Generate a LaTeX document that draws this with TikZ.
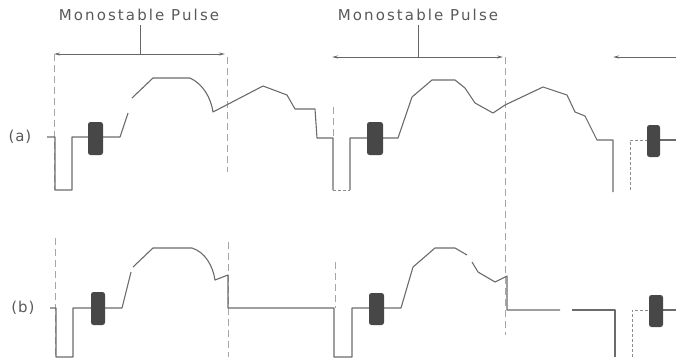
\documentclass[tikz,border=0pt]{standalone}
\usepackage{fontspec}
\setmainfont{DejaVu Sans}
\usetikzlibrary{arrows.meta}
\begin{document}
\begin{tikzpicture}[x=1pt,y=-1pt,
  wave/.style={draw=black!58, line width=1.1pt, line join=round},
  guide/.style={draw=black!35, line width=0.6pt, dash pattern=on 7pt off 4pt},
  faint/.style={draw=black!45, line width=0.8pt, dash pattern=on 3pt off 2pt},
  brk/.style={draw=black!60, line width=1pt},
  tip/.style={-{Stealth[length=6pt,width=3pt]}},
  blob/.style={fill=black!72, draw=none, rounded corners=2.5pt},
  lbl/.style={text=black!65, font=\fontsize{15}{15}\selectfont\addfontfeatures{LetterSpace=14}, inner sep=0pt},
  side/.style={text=black!65, font=\fontsize{15}{15}\selectfont\addfontfeatures{LetterSpace=6}, inner sep=0pt}]
\useasboundingbox (0,0) rectangle (676,360);

% labels
\node[lbl] (t1) at (139,15) {Monostable Pulse};
\node[lbl] (t2) at (418,15) {Monostable Pulse};
\node[side] (la) at (20,137) {(a)};
\node[side] (lb) at (23,308) {(b)};

% brackets
\coordinate (b1l) at (54,54); \coordinate (b1r) at (225,54); \coordinate (b1m) at (140,54);
\coordinate (b2l) at (332,57); \coordinate (b2r) at (503,57); \coordinate (b2m) at (418,57);
\coordinate (b3l) at (613,57); \coordinate (b3r) at (676,57);
\draw[brk] (t1.south -| b1m) ++(0,4) -- (b1m);
\draw[brk] (t2.south -| b2m) ++(0,4) -- (b2m);
\draw[brk,tip] (b1m) -- (b1l);
\draw[brk,tip] (b1m) -- (b1r);
\draw[brk,tip] (b2m) -- (b2l);
\draw[brk,tip] (b2m) -- (b2r);
\draw[brk,tip] (b3r) -- (b3l);

% guide lines
\draw[guide] (54,54) -- (54,190);
\draw[guide] (227,57) -- (227,172);
\draw[guide] (333,107) -- (333,138);
\draw[guide] (505,57) -- (505,335);
\draw[guide] (55,238) -- (55,357);
\draw[guide] (228,242) -- (228,357);
\draw[guide] (335,262) -- (335,308);

% waveform (a)
\draw[wave] (47,137) -- (55,137) -- (55,190) -- (72,190) -- (72,137) -- (120,137) -- (128,113);
\draw[wave] (132,98) -- (153,78) -- (190,78) .. controls (203,84) and (211,98) .. (213,112)
  -- (263,86) -- (287,95) -- (295,109) -- (315,109) -- (317,138) -- (333,138) -- (333,190);
\draw[faint] (333,190) -- (350,190);
\draw[wave] (350,190) -- (350,138) -- (398,138) -- (412,97) -- (432,80) -- (455,80) -- (465,88)
  -- (475,103) -- (493,113) -- (505,105) -- (543,87) -- (567,95) -- (575,112) -- (585,116)
  -- (597,140) -- (613,140) -- (613,192);
\draw[faint] (630,190) -- (630,140) -- (647,140);
\draw[wave] (660,140) -- (676,140);
\fill[blob] (88,122) rectangle (103,155);
\fill[blob] (367,122) rectangle (383,155);
\fill[blob] (647,125) rectangle (660,157);

% waveform (b)
\draw[wave] (50,308) -- (56,308) -- (56,357) -- (73,357) -- (73,308) -- (122,308) -- (131,272);
\draw[wave] (133,267) -- (153,248) -- (192,248) .. controls (205,252) and (213,266) .. (215,280)
  -- (228,275) -- (228,308) -- (334,308) -- (334,357) -- (352,357) -- (352,308) -- (401,308)
  -- (413,267) -- (435,248) -- (455,248) -- (467,255);
\draw[wave] (472,262) -- (478,272) -- (495,282) -- (507,276) -- (507,310) -- (560,310);
\draw[wave] (572,310) -- (615,310) -- (615,357);
\draw[faint] (632,357) -- (632,310) -- (649,310);
\draw[wave] (663,310) -- (676,310);
\fill[blob] (91,292) rectangle (105,325);
\fill[blob] (369,293) rectangle (384,325);
\fill[blob] (649,295) rectangle (663,327);
\end{tikzpicture}
\end{document}
